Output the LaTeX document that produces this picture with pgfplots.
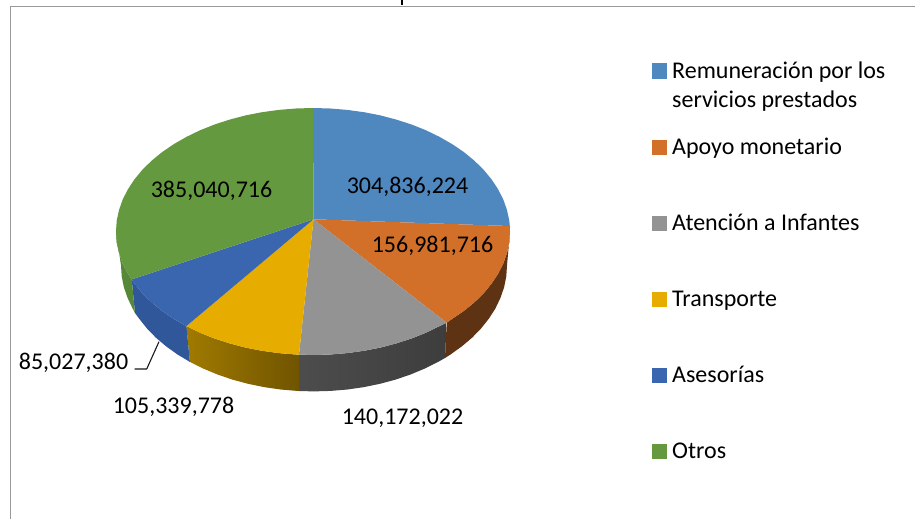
\documentclass[border=0pt]{standalone}
\usepackage{pgfplots}
\pgfplotsset{compat=1.18}
\usepackage{fontspec}
\setmainfont{Carlito}
\definecolor{cBlue}{HTML}{4F87BF}
\definecolor{cOrange}{HTML}{D2702A}
\definecolor{cGray}{HTML}{939393}
\definecolor{cGold}{HTML}{E6AC00}
\definecolor{cNavy}{HTML}{3A66B0}
\definecolor{cGreen}{HTML}{65993F}
\definecolor{sBrown}{HTML}{5E3313}
\definecolor{sNavy}{HTML}{30579A}
\definecolor{sGreen}{HTML}{578739}
\begin{document}
\begin{tikzpicture}
\begin{axis}[
  width=915pt,height=519pt,scale only axis,
  xmin=0,xmax=915,ymin=0,ymax=519,y dir=reverse,
  hide axis,
  every axis plot/.append style={line join=round},
  nodes={font=\fontsize{24}{28}\selectfont, text=black, inner sep=0pt}
]
% frame
\addplot[draw=white,line width=0pt,forget plot] coordinates {(0,0)(915,519)};
\addplot[draw=black!40,line width=1.2pt] coordinates {(915,6.5)(10.5,6.5)(10.5,519)};
% remains of the cut-off title
\addplot[draw=black,line width=2.4pt] coordinates {(401.7,0)(401.7,5)};
% side walls
\addplot[draw=none,fill=sBrown] coordinates {(510.0,231.5)(509.3,242.3)(507.0,252.9)(503.3,263.5)(498.1,273.7)(491.5,283.7)(483.6,293.3)(474.4,302.3)(463.9,310.9)(452.3,318.8)(446.7,322.7)(445,358)(450.5,354.5)(461.8,346.4)(472.1,337.7)(481.1,328.4)(488.9,318.6)(495.4,308.5)(500.4,298.0)(504.1,287.3)(506.3,276.4)(507.0,265.4)} -- cycle;
\addplot[draw=none,left color=black!70,right color=black!76] coordinates {(446.7,322.7)(439.6,326.1)(426.0,332.7)(411.5,338.5)(396.3,343.4)(380.4,347.6)(364.0,350.8)(347.2,353.1)(330.2,354.5)(313,355)(299,354.5)(299,391)(314.0,391.4)(330.8,390.9)(347.5,389.5)(364.0,387.1)(380.0,383.8)(395.6,379.6)(410.5,374.5)(424.7,368.6)(438.1,361.9)(445,358)} -- cycle;
\addplot[draw=none,left color={rgb,255:red,160;green,122;blue,0},right color={rgb,255:red,112;green,84;blue,0}] coordinates {(299,354.5)(295.8,354.5)(278.8,353.1)(262.0,350.8)(245.6,347.6)(229.7,343.4)(214.5,338.5)(200.0,332.7)(186.4,326.1)(189.9,361.9)(203.3,368.6)(217.5,374.5)(232.4,379.6)(248.0,383.8)(264.0,387.1)(280.5,389.5)(297.2,390.9)(299,391)} -- cycle;
\addplot[draw=none,fill=sNavy] coordinates {(186.4,326.1)(173.7,318.8)(162.1,310.9)(151.6,302.3)(142.4,293.3)(134.5,283.7)(131.7,279.4)(135,313)(139.1,318.6)(146.9,328.4)(155.9,337.7)(166.2,346.4)(177.5,354.5)(189.9,361.9)} -- cycle;
\addplot[draw=none,fill=sGreen] coordinates {(131.7,279.4)(127.9,273.7)(122.7,263.5)(119.0,252.9)(116.7,242.3)(116,231.5)(121.0,265.4)(121.7,276.4)(123.9,287.3)(127.6,298.0)(132.6,308.5)(135,313)} -- cycle;
% top faces
\addplot[draw=none,fill=cBlue] coordinates {(313.5,219.3)(313,108)(330.2,108.5)(347.2,109.9)(364,112.2)(380.4,115.4)(396.3,119.6)(411.5,124.5)(426,130.3)(439.6,136.9)(452.3,144.2)(463.9,152.1)(474.4,160.7)(483.6,169.75)(491.5,179.3)(498.1,189.3)(503.3,199.5)(507,210.1)(509.3,220.7)(509.8,226)} -- cycle;
\addplot[draw=none,fill=cOrange] coordinates {(313.5,219.3)(509.8,226)(510.0,231.5)(509.3,242.3)(507.0,252.9)(503.3,263.5)(498.1,273.7)(491.5,283.7)(483.6,293.3)(474.4,302.3)(463.9,310.9)(452.3,318.8)(446.7,322.7)} -- cycle;
\addplot[draw=none,fill=cGray] coordinates {(313.5,219.3)(446.7,322.7)(439.6,326.1)(426.0,332.7)(411.5,338.5)(396.3,343.4)(380.4,347.6)(364.0,350.8)(347.2,353.1)(330.2,354.5)(313,355)(299,354.5)} -- cycle;
\addplot[draw=none,fill=cGold] coordinates {(313.5,219.3)(299,354.5)(295.8,354.5)(278.8,353.1)(262.0,350.8)(245.6,347.6)(229.7,343.4)(214.5,338.5)(200.0,332.7)(186.4,326.1)} -- cycle;
\addplot[draw=none,fill=cNavy] coordinates {(313.5,219.3)(186.4,326.1)(173.7,318.8)(162.1,310.9)(151.6,302.3)(142.4,293.3)(134.5,283.7)(131.7,279.4)} -- cycle;
\addplot[draw=none,fill=cGreen] coordinates {(313.5,219.3)(131.7,279.4)(127.9,273.7)(122.7,263.5)(119.0,252.9)(116.7,242.3)(116,231.5)(116.7,220.7)(119.0,210.1)(122.7,199.5)(127.9,189.3)(134.5,179.3)(142.4,169.75)(151.6,160.7)(162.1,152.1)(173.7,144.2)(186.4,136.9)(200.0,130.3)(214.5,124.5)(229.7,119.6)(245.6,115.4)(262.0,112.2)(278.8,109.9)(295.8,108.5)(313,108)} -- cycle;
% leader
\addplot[draw=black!90,line width=1.1pt] coordinates {(134.5,369)(146.7,369)(159,341.7)};
% data labels (values as printed on the slices)
\node[anchor=base] at (axis cs:407.5,193.5) {304,836,224};
\node[anchor=base] at (axis cs:432.5,252.5) {156,981,716};
\node[anchor=base] at (axis cs:402.5,424.5) {140,172,022};
\node[anchor=base] at (axis cs:173.5,413.5) {105,339,778};
\node[anchor=base] at (axis cs:73.5,369.5) {85,027,380};
\node[anchor=base] at (axis cs:211.5,197.5) {385,040,716};
% legend
\addplot[only marks,mark=square*,mark size=7pt,mark options={draw=cBlue,fill=cBlue,line width=0pt}] coordinates {(659,71)};
\addplot[only marks,mark=square*,mark size=7pt,mark options={draw=cOrange,fill=cOrange,line width=0pt}] coordinates {(659,147)};
\addplot[only marks,mark=square*,mark size=7pt,mark options={draw=cGray,fill=cGray,line width=0pt}] coordinates {(659,223)};
\addplot[only marks,mark=square*,mark size=7pt,mark options={draw=cGold,fill=cGold,line width=0pt}] coordinates {(659,299)};
\addplot[only marks,mark=square*,mark size=7pt,mark options={draw=cNavy,fill=cNavy,line width=0pt}] coordinates {(659,375)};
\addplot[only marks,mark=square*,mark size=7pt,mark options={draw=cGreen,fill=cGreen,line width=0pt}] coordinates {(659,451)};
\node[anchor=base west] at (axis cs:672,78.5) {Remuneración por los};
\node[anchor=base west] at (axis cs:672,107) {servicios prestados};
\node[anchor=base west] at (axis cs:672,154) {Apoyo monetario};
\node[anchor=base west] at (axis cs:672,230) {Atención a Infantes};
\node[anchor=base west] at (axis cs:672,306) {Transporte};
\node[anchor=base west] at (axis cs:672,382) {Asesorías};
\node[anchor=base west] at (axis cs:672,458) {Otros};
\end{axis}
\end{tikzpicture}
\end{document}
